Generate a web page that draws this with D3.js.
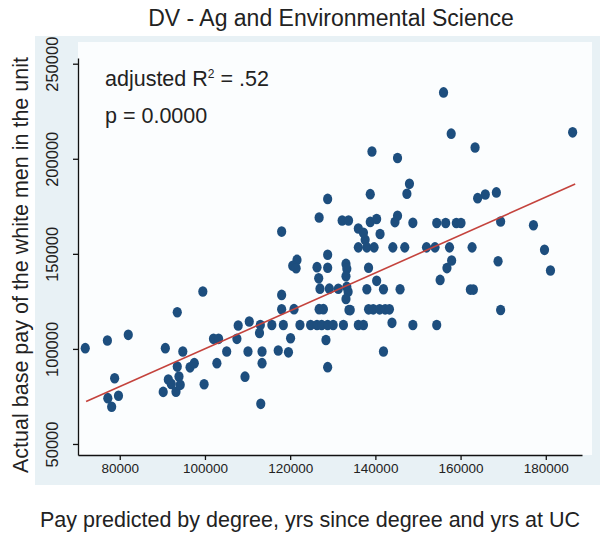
<!DOCTYPE html>
<html>
<head>
<meta charset="utf-8">
<script src="https://cdn.jsdelivr.net/npm/d3@7"></script>
<style>
  body { margin: 0; background: #fff; }
  text { font-family: "Liberation Sans", Arial, sans-serif; fill: #222; }
</style>
</head>
<body>
<script>
// predicted pay (x) and actual base pay (y)
const predicted = [
  71900, 77100, 82000, 78800, 77200, 78100, 79700, 99500, 93500, 90700,
  94800, 93500, 93900, 91400, 92100, 90200, 93200, 94200, 96500, 97500,
  102800, 99800, 102000, 103200, 105100, 107500, 107800, 110400, 110100, 109400,
  113100, 112800, 113400, 113400, 113000, 115700,
  118000, 128800, 121600, 120600, 121400, 126300, 128800, 126700, 127000, 129200, 131300,
  133100, 133300, 133100, 133300, 133600, 133100, 133800,
  118000, 118000, 120900, 126800, 127800,
  118400, 122300, 124800, 126300, 127400, 128800, 130100, 132500, 136000, 137200, 148800, 154400, 143900,
  120100, 128400, 117200, 119600, 141900, 128800, 134100,
  138400, 139500, 141000, 142300, 143300,
  138000, 140300, 141900, 145800, 155200, 138400, 137600,
  136000, 138000, 139700, 144100, 146900, 152000, 154000, 157400, 162700,
  136000, 137200, 141100, 132200, 133700, 138800, 140300, 144600, 145200, 148800,
  154400, 156500, 159000, 160100,
  169400, 177100, 126800, 128800, 138800, 147400, 148000,
  139200, 145200, 156000, 157800, 163400, 186300,
  164000, 165800, 168400, 157900, 156800, 168800, 179700, 181100, 162300, 163000, 169400
];
const actual = [
  100400, 104400, 107400, 84600, 74100, 69600, 75400, 130200, 119300, 100400,
  98600, 90700, 85500, 83900, 81600, 77400, 77500, 81100, 90300, 92500,
  92500, 81400, 105300, 105300, 98600, 105300, 112300, 114400, 98600, 85400,
  71100, 108400, 98600, 92500, 112600, 112600,
  161700, 149500, 146800, 143700, 142400, 143000, 142700, 137100, 131700, 131700, 131600,
  144700, 142100, 138200, 132600, 130000, 126300, 120500,
  128400, 120800, 120900, 120900, 120900,
  112600, 112600, 112600, 112600, 112600, 112600, 112600, 112600, 112600, 112600, 112600, 112600, 113700,
  105600, 104700, 99200, 98200, 98600, 90400, 120400,
  120800, 120800, 120800, 120800, 120800,
  131400, 135800, 131400, 131400, 136300, 142700, 157400,
  153400, 153400, 153400, 153400, 153400, 153400, 153400, 153400, 153400,
  163300, 161100, 160400, 167500, 167500, 166800, 168300, 166700, 170000, 166300,
  166200, 166200, 166200, 166200,
  167000, 165000, 169100, 178900, 181400, 181600, 186800,
  203800, 200400, 234900, 213200, 205900, 213900,
  179300, 181200, 182300, 146500, 142500, 146100, 152100, 141200, 131200, 131200, 120500
];
// fitted line end points
const fitX = [72100, 186900];
const fitY = [72300, 186700];

const xTicks = [80000, 100000, 120000, 140000, 160000, 180000];
const yTicks = [50000, 100000, 150000, 200000, 250000];

const title = "DV - Ag and Environmental Science";
const xTitle = "Pay predicted by degree, yrs since degree and yrs at UC";
const yTitle = "Actual base pay of the white men in the unit";

const W = 608, H = 533;
const plotLeft = 78, plotRight = 582, plotTop = 58, plotBottom = 455;

const svg = d3.select("body").append("svg")
  .attr("width", W)
  .attr("height", H);

// graph region (light blue) and plot region (white)
svg.append("rect")
  .attr("x", 35).attr("y", 36)
  .attr("width", 565).attr("height", 449)
  .attr("fill", "#e8f1f5");
svg.append("rect")
  .attr("x", plotLeft).attr("y", 42)
  .attr("width", 514).attr("height", plotBottom - 42)
  .attr("fill", "#fbfdfe");

let x = d3.scaleLinear().domain([70200, 188500]).range([plotLeft, plotRight]);
let y = d3.scaleLinear().domain([44200, 253000]).range([plotBottom, plotTop]);

// points
svg.append("g")
  .selectAll("ellipse")
  .data(predicted.map((d, i) => [d, actual[i]]))
  .enter()
  .append("ellipse")
  .attr("cx", d => x(d[0]))
  .attr("cy", d => y(d[1]))
  .attr("rx", 4.6)
  .attr("ry", 5.3)
  .attr("fill", "#1d4e7e");

// fitted line
svg.append("line")
  .attr("x1", x(fitX[0])).attr("y1", y(fitY[0]))
  .attr("x2", x(fitX[1])).attr("y2", y(fitY[1]))
  .attr("stroke", "#c4433d")
  .attr("stroke-width", 1.6);

// y axis
let yAxis = svg.append("g")
  .attr("transform", "translate(" + plotLeft + ",0)")
  .call(d3.axisLeft(y).tickValues(yTicks).tickSize(5).tickSizeOuter(0).tickFormat(d3.format("d")));
yAxis.select(".domain").attr("stroke", "#111").attr("stroke-width", 1.3);
yAxis.selectAll(".tick line").attr("stroke", "#111").attr("stroke-width", 1.3);
yAxis.selectAll(".tick text")
  .attr("x", 0).attr("dy", 0)
  .attr("transform", "translate(-20,0) rotate(-90)")
  .style("text-anchor", "middle")
  .style("font-size", "16.5px")
  .style("font-family", "Liberation Sans, Arial, sans-serif")
  .attr("fill", "#222");

// x axis
let xAxis = svg.append("g")
  .attr("transform", "translate(0," + plotBottom + ")")
  .call(d3.axisBottom(x).tickValues(xTicks).tickSize(5).tickSizeOuter(0).tickFormat(d3.format("d")));
xAxis.select(".domain").attr("stroke", "#111").attr("stroke-width", 1.3);
xAxis.selectAll(".tick line").attr("stroke", "#111").attr("stroke-width", 1.3);
xAxis.selectAll(".tick text")
  .attr("y", 8).attr("dy", "0.71em")
  .style("font-size", "13.5px")
  .style("font-family", "Liberation Sans, Arial, sans-serif")
  .attr("fill", "#222");

// titles
svg.append("text")
  .attr("x", 331).attr("y", 26)
  .style("text-anchor", "middle")
  .style("font-size", "23px")
  .text(title);

svg.append("text")
  .attr("x", 310).attr("y", 527)
  .style("text-anchor", "middle")
  .style("font-size", "21.5px")
  .text(xTitle);

svg.append("text")
  .attr("transform", "translate(28,265) rotate(-90)")
  .style("text-anchor", "middle")
  .style("font-size", "21.5px")
  .text(yTitle);

// annotation
let r2 = svg.append("text")
  .attr("x", 105).attr("y", 86)
  .style("font-size", "21.5px");
r2.append("tspan").text("adjusted R");
r2.append("tspan").attr("dy", -8).style("font-size", "12px").text("2");
r2.append("tspan").attr("dy", 8).text(" = .52");

svg.append("text")
  .attr("x", 105).attr("y", 123)
  .style("font-size", "21.5px")
  .text("p = 0.0000");
</script>
</body>
</html>
